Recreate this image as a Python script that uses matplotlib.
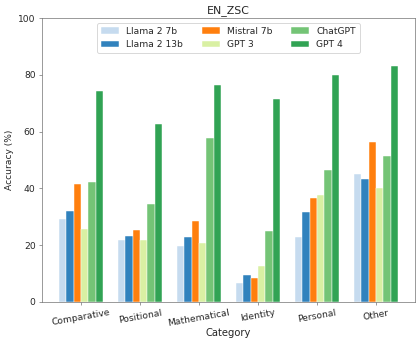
import matplotlib
matplotlib.use("Agg")
import matplotlib.pyplot as plt
import numpy as np

categories = ['Comparative', 'Positional', 'Mathematical', 'Identity', 'Personal', 'Other']
models = ['Llama 2 7b', 'Llama 2 13b', 'Mistral 7b', 'GPT 3', 'ChatGPT', 'GPT 4']
colors = ['#c6dbef', '#3182bd', '#ff7f0e', '#d9f0a3', '#74c476', '#31a354']

llama7 = [29.2, 21.8, 19.8, 6.5, 23.0, 45.1]
llama13 = [32.0, 23.2, 22.7, 9.4, 31.8, 43.2]
mistral = [41.7, 25.3, 28.5, 8.5, 36.6, 56.4]
gpt3 = [25.7, 21.8, 20.8, 12.7, 37.7, 40.0]
chatgpt = [42.3, 34.5, 57.6, 25.1, 46.6, 51.5]
gpt4 = [74.2, 62.8, 76.6, 71.4, 79.9, 83.0]
series = [llama7, llama13, mistral, gpt3, chatgpt, gpt4]

x = np.arange(len(categories))
w = 0.125

plt.rcParams['text.color'] = '#262626'
plt.rcParams['axes.labelcolor'] = '#262626'
plt.rcParams['xtick.labelcolor'] = '#262626'
plt.rcParams['ytick.labelcolor'] = '#262626'
plt.rcParams['xtick.color'] = '#777777'
plt.rcParams['ytick.color'] = '#777777'
plt.rcParams['axes.edgecolor'] = '#777777'

dpi = 65.625
fig, ax = plt.subplots(figsize=(420 / dpi, 339 / dpi), dpi=dpi)
for i, vals in enumerate(series):
    ax.bar(x + (i - 2.5) * w, vals, w, color=colors[i], label=models[i],
           edgecolor='white', linewidth=0.5)

ax.set_ylim(0, 100)
ax.set_xticks(x)
ax.set_xticklabels(categories, rotation=10)
ax.set_xlabel('Category', fontsize=11, labelpad=0)
ax.set_ylabel('Accuracy (%)')
ax.set_title('EN_ZSC', fontsize=12)
ax.legend(loc='upper center', ncol=3)

fig.subplots_adjust(left=0.1, right=0.988, top=0.946, bottom=0.11)
fig.savefig('out.png', dpi=dpi)
